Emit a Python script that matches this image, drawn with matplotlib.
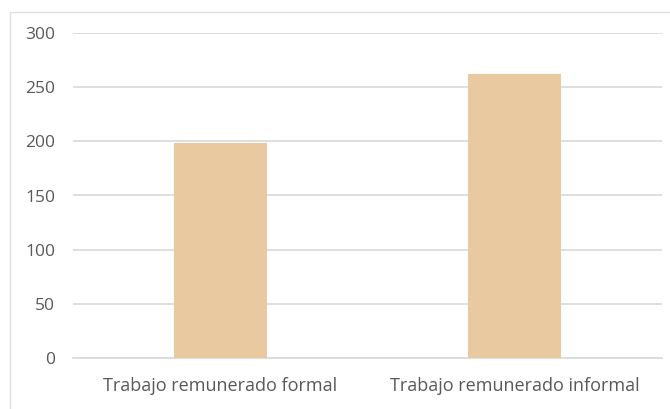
import matplotlib
matplotlib.use("Agg")
import matplotlib.pyplot as plt
from matplotlib.patches import Rectangle

categories = ["Trabajo remunerado formal", "Trabajo remunerado informal"]
values = [198, 262]
yticks = [0, 50, 100, 150, 200, 250, 300]

plt.rcParams['font.family'] = ['Open Sans', 'DejaVu Sans']

fig = plt.figure(figsize=(6.70, 4.09), dpi=100)
ax = fig.add_axes([73 / 670, 1 - 358 / 409, (662 - 73) / 670, (358 - 33) / 409])

x = range(len(categories))
ax.bar(x, values, width=0.315, color="#E8C9A0", zorder=3)

ax.set_xlim(-0.5, len(categories) - 0.5)
ax.set_ylim(0, 300)
ax.set_yticks(yticks)
ax.set_xticks(list(x))
ax.set_xticklabels(categories)
ax.grid(axis="y", color="#D9D9D9", linewidth=1.2, zorder=0)
for s in ["top", "right", "left"]:
    ax.spines[s].set_visible(False)
ax.spines["bottom"].set_color("#D9D9D9")
ax.spines["bottom"].set_linewidth(1.2)
ax.tick_params(axis="y", length=0, colors="#595959", labelsize=12.5, pad=13)
ax.tick_params(axis="x", length=0, colors="#595959", labelsize=13, pad=14)

# chart frame (left and top edges inside the canvas)
fig.patches.append(Rectangle((10 / 670, -0.05), 1.1, 1 - 12 / 409 + 0.05,
                             transform=fig.transFigure, fill=False,
                             edgecolor="#E0E0E0", linewidth=1.0))

fig.savefig("out.png", dpi=100)
